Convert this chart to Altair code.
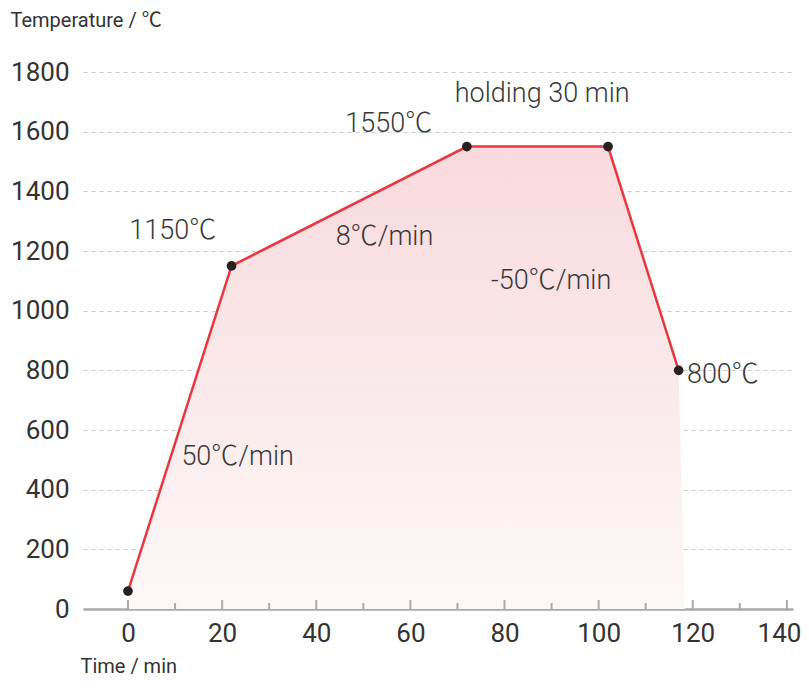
import altair as alt
import pandas as pd

# Process profile
time_min = [0, 22, 72, 102, 117]
temp_c = [60, 1150, 1550, 1550, 800]

# Shaded area under the profile (its lower right edge ends slightly past the last point)
area_time = [0, 22, 72, 102, 117, 118.3]
area_temp = [60, 1150, 1550, 1550, 800, 0]

# Annotations
ann_text = ["1150℃", "1550℃", "holding 30 min", "8℃/min", "-50℃/min", "800℃", "50℃/min"]
ann_x = [9.5, 55.4, 88, 54.5, 89.9, 126.4, 23.3]
ann_y = [1268, 1625, 1726, 1247, 1100, 783, 508]

# Axis ticks
x_major = [0, 20, 40, 60, 80, 100, 120, 140]
x_minor = [10, 30, 50, 70, 90, 110, 130]
y_ticks = [0, 200, 400, 600, 800, 1000, 1200, 1400, 1600, 1800]

W, H = 710, 537
FONT = "Roboto, 'Noto Sans CJK SC'"

line_df = pd.DataFrame({"t": time_min, "T": temp_c})
area_df = pd.DataFrame({"t": area_time, "T": area_temp})
ann_df = pd.DataFrame({"t": ann_x, "T": ann_y, "label": ann_text})
maj_df = pd.DataFrame({"t": x_major})
min_df = pd.DataFrame({"t": x_minor})

xs = alt.Scale(domain=[-9.56, 141.3], nice=False, zero=False)
ys = alt.Scale(domain=[0, 1800], nice=False)

x_axis = alt.Axis(
    values=x_major, grid=False, ticks=False, domain=True, format="d",
    labelFlush=10, labelFlushOffset=14,
    domainColor="#aaaaaa", domainWidth=2.5,
    labelFont=FONT, labelFontSize=26, labelColor="#333333", labelPadding=11,
    title="Time / min", titleFont=FONT, titleFontSize=20, titleFontWeight="normal",
    titleColor="#333333", titleAngle=0, titleX=-3, titleY=57,
    titleAlign="left", titleBaseline="middle",
)
y_axis = alt.Axis(
    values=y_ticks, grid=True, gridDash=[4, 4], gridColor="#cccccc", gridWidth=1,
    ticks=False, domain=False, format="d",
    labelFont=FONT, labelFontSize=26, labelColor="#333333", labelPadding=14,
    title="Temperature / ℃", titleFont=FONT, titleFontSize=20, titleFontWeight="normal",
    titleColor="#333333", titleAngle=0, titleX=-73, titleY=-52,
    titleAlign="left", titleBaseline="middle",
)

gradient = alt.Gradient(
    gradient="linear",
    stops=[alt.GradientStop(color="#f8dadd", offset=0),
           alt.GradientStop(color="#fdf8f8", offset=1)],
    x1=0, x2=0, y1=0, y2=1,
)

area = alt.Chart(area_df).mark_area(color=gradient, opacity=1).encode(
    x=alt.X("t:Q", scale=xs, axis=x_axis),
    y=alt.Y("T:Q", scale=ys, axis=y_axis),
    y2=alt.datum(0),
)

line = alt.Chart(line_df).mark_line(color="#e8373f", strokeWidth=2.5).encode(
    x=alt.X("t:Q", scale=xs),
    y=alt.Y("T:Q", scale=ys),
)

pts = alt.Chart(line_df).mark_circle(size=95, color="#2b2020", opacity=1).encode(
    x=alt.X("t:Q", scale=xs),
    y=alt.Y("T:Q", scale=ys),
)

text = alt.Chart(ann_df).mark_text(
    font=FONT, fontSize=27, fontWeight=300, color="#3a3a3a", align="center", baseline="middle"
).encode(
    x=alt.X("t:Q", scale=xs),
    y=alt.Y("T:Q", scale=ys),
    text="label:N",
)

maj = alt.Chart(maj_df).mark_rule(color="#aaaaaa", strokeWidth=2).encode(
    x=alt.X("t:Q", scale=xs), y=alt.value(H), y2=alt.value(H - 9)
)
mnr = alt.Chart(min_df).mark_rule(color="#aaaaaa", strokeWidth=2).encode(
    x=alt.X("t:Q", scale=xs), y=alt.value(H), y2=alt.value(H - 6)
)

chart = alt.layer(area, maj, mnr, line, pts, text).properties(
    width=W, height=H,
    autosize=alt.AutoSizeParams(type="none"),
    padding={"left": 75, "top": 64, "right": 8, "bottom": 71},
).configure_view(stroke=None)

chart.save("out.html", embed_options={"renderer": "svg", "actions": False})
